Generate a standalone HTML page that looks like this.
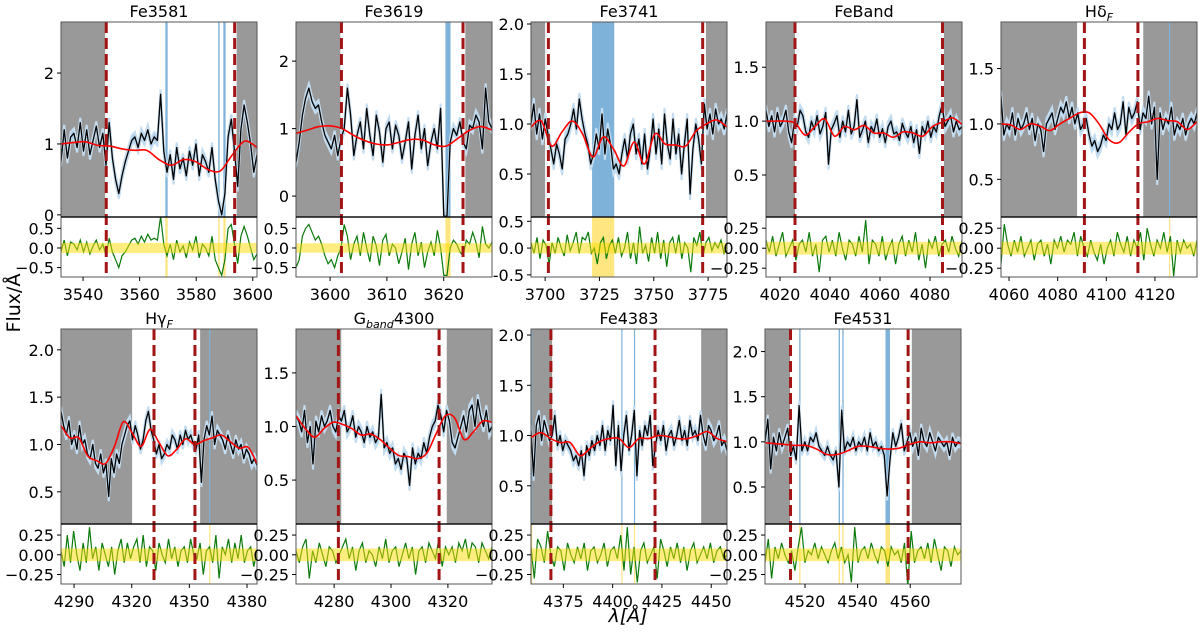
<!DOCTYPE html>
<html><head><meta charset="utf-8"><style>
html,body{margin:0;padding:0;background:#fff;}
svg{display:block;font-family:"DejaVu Sans","Liberation Sans",sans-serif;}
</style></head><body>
<svg id="fig" width="1200" height="633" viewBox="0 0 1200 633" xmlns="http://www.w3.org/2000/svg">
<text x="0" y="0" transform="translate(20,303) rotate(-90)" font-size="19" text-anchor="middle">Flux/Å</text>
<text x="628" y="622" font-size="19" text-anchor="middle" font-style="italic">λ[Å]</text>
</svg>
<script>
// ---- data ----
const fe3581_flux=[0.75,1.2,0.8,1.1,1.15,0.95,1.3,0.9,1.2,0.85,1.05,1.25,0.95,1.15,0.7,1.3,0.8,0.5,0.3,0.55,0.75,0.9,1.05,1.1,0.95,1.15,1.05,1.2,1.0,1.1,1.05,1.7,0.9,0.6,0.85,0.5,0.95,0.65,0.8,0.55,0.9,0.7,1.0,0.55,0.85,0.75,0.6,0.95,0.5,0.2,0.0,0.3,1.1,1.35,0.9,0.4,1.2,1.55,1.3,1.0,0.6,0.85];
const fe3581_model=[1.0,1.02,1.03,0.98,0.97,0.93,0.91,0.91,0.78,0.70,0.78,0.75,0.64,0.62,0.85,1.04,0.95];
const fe3581_resid=[-0.1,0.2,-0.2,0.15,0.1,-0.05,0.2,-0.1,0.15,-0.15,0.05,0.2,-0.05,0.1,-0.2,0.25,-0.1,-0.3,-0.5,-0.2,-0.1,0.05,0.2,0.25,0.1,0.3,0.15,0.35,0.2,0.25,0.2,0.8,0.1,-0.2,0.1,-0.3,0.2,-0.1,0.05,-0.25,0.15,-0.05,0.3,-0.25,0.1,0.0,-0.2,0.3,-0.3,-0.5,-0.7,-0.3,0.5,0.6,0.1,-0.4,0.3,0.55,0.3,0.0,-0.3,-0.15];
const fe3619_flux=[0.5,0.8,1.2,1.45,1.6,1.4,1.3,1.35,1.1,0.9,0.8,0.7,0.9,0.6,0.85,1.0,1.6,1.2,0.6,0.9,1.1,0.7,1.3,0.9,0.6,1.2,0.95,0.5,1.0,1.1,0.7,1.05,0.9,0.55,0.8,1.1,0.4,0.9,1.2,0.7,1.0,0.45,0.8,1.0,0.7,1.3,-0.3,-0.3,0.8,1.0,0.9,1.1,0.8,0.7,1.05,1.0,1.2,1.1,0.7,1.6,1.1,1.0];
const fe3619_model=[0.93,0.98,1.03,1.04,1.0,0.9,0.82,0.77,0.76,0.8,0.84,0.83,0.76,0.74,0.85,0.97,1.03,0.98];
const fe3619_resid=[-0.5,-0.3,0.3,0.5,0.6,0.4,0.2,0.3,0.1,-0.2,-0.4,-0.3,-0.5,-0.2,0.0,0.6,0.3,-0.3,0.1,0.3,-0.2,0.4,0.0,-0.35,0.3,0.05,-0.45,0.2,0.35,-0.2,0.1,0.0,-0.4,-0.1,0.25,-0.55,0.1,0.4,-0.2,0.15,-0.5,-0.1,0.15,-0.2,0.45,0.0,-0.7,-0.7,0.0,0.2,0.1,-0.1,-0.2,0.2,0.1,0.4,0.15,-0.25,0.55,0.1,0.0,0.15];
const fe3741_flux=[1.0,1.2,0.9,1.1,0.85,1.05,0.9,0.75,0.6,0.8,0.7,0.55,0.85,0.9,1.0,1.15,0.95,1.25,1.05,0.9,0.8,0.6,0.7,0.9,0.75,1.1,0.7,0.95,0.8,0.55,0.6,0.5,0.7,0.85,0.65,0.9,1.0,0.7,0.85,0.6,0.9,0.55,0.75,1.05,0.7,0.95,0.6,1.1,0.8,0.65,1.05,0.7,0.9,0.5,0.8,1.05,0.3,0.75,1.0,0.85,0.6,1.2,0.95,1.1,0.9,1.15,1.0,1.05,0.95,1.1];
const fe3741_model=[0.97,1.03,0.78,0.92,1.03,0.9,0.67,0.87,0.75,0.58,0.82,0.6,0.9,0.8,0.79,0.78,0.93,1.0,1.04,0.97];
const fe3741_resid=[0.1,-0.1,0.2,-0.2,0.15,0.05,-0.3,0.1,-0.1,0.2,0.0,-0.15,0.25,-0.05,0.1,0.3,-0.1,0.2,0.15,0.3,-0.1,0.0,-0.3,0.1,0.2,-0.2,0.05,0.15,-0.1,0.2,-0.15,0.0,0.3,-0.2,0.1,-0.3,0.4,-0.1,0.05,-0.25,0.2,-0.1,0.3,-0.2,0.15,-0.35,0.1,0.2,-0.1,0.25,-0.2,0.1,0.0,-0.45,0.2,0.05,0.3,-0.15,0.1,0.2,-0.05,0.1,0.0,0.15,-0.1,0.05];
const feband_flux=[1.1,0.95,1.05,0.9,1.08,0.95,1.0,1.1,0.9,0.8,1.0,0.95,1.1,1.05,0.9,0.85,1.0,0.92,1.05,0.88,0.95,1.08,0.6,0.92,0.98,1.05,0.85,1.0,0.9,1.1,0.88,0.95,1.2,0.85,0.92,1.0,0.8,0.95,0.9,1.02,0.85,0.93,0.8,0.95,1.0,0.88,0.9,0.82,0.98,0.9,0.85,0.95,0.8,0.92,0.7,0.95,0.88,1.0,0.85,0.95,0.9,1.05,1.15,0.95,1.0,1.05,0.9,1.0,0.92,0.95];
const feband_model=[1.0,1.0,1.0,0.98,0.87,0.95,1.02,0.86,0.95,0.92,0.96,0.89,0.89,0.85,0.9,0.89,0.86,0.95,0.99,1.03,0.97];
const feband_resid=[0.1,-0.05,0.15,-0.1,0.05,0.2,-0.1,0.0,0.1,-0.15,0.05,0.1,-0.05,0.2,-0.1,0.05,-0.3,0.1,0.15,-0.05,0.1,-0.1,0.2,0.0,-0.15,0.1,0.05,-0.1,0.15,-0.05,0.35,-0.2,0.1,0.05,-0.1,0.15,-0.15,0.0,0.1,-0.2,0.05,0.15,-0.1,0.1,-0.05,0.2,-0.15,0.05,-0.25,0.1,0.0,0.15,-0.1,0.05,0.1,-0.05,0.15,0.0,-0.1,0.1];
const hdf_flux=[1.25,0.9,1.0,0.95,1.1,0.9,1.05,0.95,1.0,1.1,0.95,1.05,0.85,1.0,0.95,0.75,1.0,1.05,1.1,0.95,1.05,1.15,1.1,1.2,1.05,1.15,1.0,1.1,0.95,1.0,1.05,0.9,0.8,0.85,0.75,0.8,0.9,0.85,1.0,0.95,1.1,0.95,1.0,1.2,0.9,1.15,1.05,1.1,1.2,0.95,1.1,1.05,1.25,1.0,1.15,0.5,1.1,0.95,1.05,1.0,1.15,0.9,1.0,0.95,1.05,0.9,1.0,1.05,1.0,1.1];
const hdf_model=[1.0,0.99,0.95,1.0,0.98,0.94,1.0,1.05,1.1,1.1,1.0,0.86,0.83,0.92,1.0,1.02,1.05,1.03,1.02,0.95,1.02];
const hdf_resid=[-0.2,0.3,0.05,-0.1,0.1,-0.05,0.15,-0.1,0.0,0.1,-0.15,0.05,0.1,-0.1,0.05,-0.2,0.1,0.0,0.15,-0.05,0.1,0.05,0.2,-0.1,0.15,0.0,-0.1,0.1,-0.05,-0.15,0.05,-0.2,0.0,0.1,-0.1,0.2,0.05,-0.05,0.15,-0.1,0.1,0.0,0.2,-0.15,0.25,0.05,-0.1,0.1,0.0,0.2,-0.05,0.15,-0.35,0.1,-0.05,0.1,0.0,0.05,-0.1,0.1];
const hgf_flux=[1.35,1.2,1.1,1.25,1.0,1.1,0.95,1.2,1.0,1.05,0.9,0.85,1.0,0.8,0.75,0.9,0.7,0.8,0.45,0.85,0.7,0.9,0.8,1.0,1.1,1.2,1.25,1.05,1.2,1.1,0.95,1.05,1.25,1.35,1.15,1.05,0.9,1.0,0.85,0.9,1.0,0.95,1.1,1.05,0.95,1.1,1.0,1.15,1.05,1.1,1.0,0.95,1.1,0.6,1.05,1.2,1.1,1.3,1.0,1.15,1.1,1.05,0.95,1.1,1.0,0.9,1.05,0.95,1.0,0.85,0.95,0.9,0.8,0.85,0.78];
const hgf_model=[1.2,1.07,1.07,0.88,0.83,0.8,0.98,1.24,1.12,0.98,1.16,1.02,0.88,0.95,1.06,1.0,1.04,1.07,1.1,1.03,0.96,0.97,0.8];
const hgf_resid=[0.05,-0.15,0.25,-0.1,0.3,0.0,-0.2,0.15,-0.1,0.35,-0.05,0.1,-0.2,0.15,0.0,-0.15,0.1,-0.25,0.05,0.2,-0.1,0.15,-0.05,0.1,0.2,-0.1,0.25,-0.15,0.1,0.05,-0.2,0.15,0.0,-0.1,0.2,-0.05,0.1,-0.15,0.05,0.1,-0.1,0.2,0.0,-0.05,0.15,-0.25,0.05,0.1,-0.1,0.25,-0.3,0.1,0.0,0.2,-0.1,0.15,-0.05,0.25,-0.1,0.05,0.1,-0.15,0.05];
const gband_flux=[1.1,1.05,0.95,1.15,0.85,1.0,0.65,1.05,0.95,1.1,1.0,1.05,1.15,1.0,0.95,1.1,1.05,1.15,0.95,1.0,1.1,0.9,1.0,0.95,0.85,1.0,0.9,0.95,0.85,0.9,1.3,0.8,0.85,0.75,0.8,0.65,0.7,0.6,0.75,0.7,0.45,0.8,0.65,0.75,0.7,0.85,0.75,0.9,1.0,1.05,1.2,1.1,0.95,1.15,1.05,0.85,0.8,0.9,1.0,1.1,0.95,1.15,1.2,1.0,1.25,1.1,1.0,1.15,0.95,1.0];
const gband_model=[1.1,0.98,0.9,0.98,1.04,1.02,0.98,0.92,0.93,0.88,0.8,0.73,0.72,0.7,0.75,0.93,1.1,1.08,0.88,0.95,1.05,1.04];
const gband_resid=[0.05,-0.1,0.1,0.2,-0.3,0.05,-0.1,0.15,0.0,-0.15,0.1,0.05,-0.1,0.0,0.1,0.2,-0.05,0.1,-0.2,0.05,0.15,-0.1,0.05,0.0,-0.15,0.1,-0.05,0.2,-0.1,0.05,0.1,-0.15,0.0,0.15,-0.05,0.1,-0.25,0.05,0.1,-0.1,0.15,0.05,-0.05,0.2,-0.15,0.1,0.0,0.1,-0.1,0.15,0.05,0.2,-0.05,0.15,0.1,-0.1,0.15,0.05,-0.05,0.1];
const fe4383_flux=[1.05,0.6,1.1,1.2,0.95,1.15,1.05,0.95,1.0,1.2,0.9,1.0,0.85,0.95,0.9,0.85,0.75,0.8,0.7,0.85,0.6,0.9,0.8,0.95,0.85,1.0,0.9,1.1,0.85,1.05,0.95,1.3,0.7,1.1,0.65,1.0,1.2,0.85,1.0,1.25,0.6,1.05,0.9,1.1,1.0,1.2,0.7,0.9,1.05,0.95,1.1,0.85,1.0,1.05,0.9,1.0,1.15,0.95,1.05,0.9,1.15,1.0,1.05,0.95,1.2,1.0,0.9,1.1,1.05,0.95,1.0,1.1,0.9,0.95,0.85];
const fe4383_model=[0.98,1.03,0.97,0.93,0.93,0.8,0.87,0.94,0.97,0.97,0.88,0.97,0.97,1.0,0.99,0.97,0.97,1.0,1.04,0.97,0.94];
const fe4383_resid=[0.1,-0.3,0.2,0.1,-0.1,0.3,0.0,-0.15,0.1,0.05,-0.2,0.15,0.0,-0.1,0.1,-0.05,0.15,-0.2,0.05,0.1,-0.1,0.0,0.15,-0.15,0.05,0.1,-0.05,0.25,-0.2,0.35,-0.25,0.1,-0.35,0.05,0.15,-0.1,0.0,0.1,-0.3,0.2,0.05,-0.15,0.1,-0.05,0.15,-0.1,0.1,-0.2,0.05,0.15,-0.1,0.0,0.1,-0.05,0.15,-0.1,0.05,0.1,-0.05,0.0];
const fe4531_flux=[1.0,1.25,0.7,1.05,0.9,1.1,0.95,1.05,1.15,0.85,0.95,0.8,1.4,0.9,1.0,0.9,1.05,1.0,1.1,0.95,0.9,0.85,0.95,0.85,0.8,0.9,0.5,1.35,0.9,1.0,0.95,1.05,0.9,1.0,0.95,1.05,0.9,1.1,0.95,1.0,0.9,0.95,0.85,0.4,0.8,1.1,0.95,1.05,1.2,0.9,1.0,1.1,0.95,1.05,0.85,1.15,1.0,0.95,1.1,1.0,0.9,1.05,1.0,0.95,1.0,0.85,1.05,0.95,1.0,0.98];
const fe4531_model=[0.99,0.98,0.97,0.96,0.96,0.92,0.86,0.86,0.9,0.95,0.95,0.93,0.92,0.93,0.97,1.0,0.99,1.0,1.0,0.98];
const fe4531_resid=[-0.1,0.2,-0.3,0.1,-0.05,0.15,0.0,-0.1,0.05,-0.2,0.1,0.35,-0.1,0.05,0.0,0.15,-0.05,0.1,0.0,-0.1,0.05,0.15,-0.05,0.1,-0.1,0.0,-0.35,0.35,-0.1,0.05,0.1,-0.05,0.15,0.0,-0.1,0.1,0.05,-0.15,0.1,0.0,0.05,-0.1,0.15,-0.4,0.3,-0.1,0.05,0.1,-0.05,0.15,-0.1,0.2,0.0,-0.2,0.1,0.05,-0.15,0.1,0.0,0.05];
const titles=["Fe3581","Fe3619","Fe3741","FeBand","HδF","HγF","Gband4300","Fe4383","Fe4531"];
const xTicks=[[3540,3560,3580,3600],[3600,3610,3620],[3700,3725,3750,3775],[4020,4040,4060,4080],[4060,4080,4100,4120],[4290,4320,4350,4380],[4280,4300,4320],[4375,4400,4425,4450],[4520,4540,4560]];
const yTicks=[[0,1,2],[0,1,2],[0.5,1.0,1.5,2.0],[0.5,1.0,1.5],[0.5,1.0,1.5],[0.5,1.0,1.5,2.0],[0.5,1.0,1.5],[0.5,1.0,1.5,2.0],[0.5,1.0,1.5,2.0]];
const rTicks=[[0.5,0,-0.5],[0.5,0,-0.5],[0.5,0,-0.5],[0.25,0,-0.25],[0.25,0,-0.25],[0.25,0,-0.25],[0.25,0,-0.25],[0.25,0,-0.25],[0.25,0,-0.25]];
const greyRegions=[[[0,3547.8],[3594.3,9999]],[[0,3601.8],[3623.8,9999]],[[0,3700],[3774,9999]],[[0,4026],[4085.6,9999]],[[0,4088],[4115.2,9999]],[[0,4320.2],[4355.6,9999]],[[0,4282.5],[4319.6,9999]],[[0,4369.3],[4444.9,9999]],[[0,4514.3],[4560.6,9999]]];
const bandEdges=[[3548.2,3593.6],[3602,3623.4],[3701.5,3772.5],[4026,4085],[4091,4113],[4331.6,4352.9],[4281.5,4316.9],[4368.7,4421.5],[4514.5,4559.2]];
const masked=[[[3569.1,3569.9],[3587.8,3588.3],[3589.6,3590.4]],[[3620.3,3621.2]],[[3721.6,3731.8]],[],[[4125.8,4126.3]],[[4360.3,4360.8]],[],[[4358.6,4359.2],[4404.4,4404.9],[4410.8,4411.3]],[[4517.8,4518.3],[4532.8,4533.3],[4534.2,4534.7],[4550.6,4552.3]]];
const residErr=[0.13,0.12,0.1,0.08,0.08,0.08,0.08,0.08,0.08];
const fluxErr=[0.07,0.07,0.06,0.05,0.05,0.05,0.05,0.05,0.05];
const fluxes=[fe3581_flux,fe3619_flux,fe3741_flux,feband_flux,hdf_flux,hgf_flux,gband_flux,fe4383_flux,fe4531_flux];
const models=[fe3581_model,fe3619_model,fe3741_model,feband_model,hdf_model,hgf_model,gband_model,fe4383_model,fe4531_model];
const resids=[fe3581_resid,fe3619_resid,fe3741_resid,feband_resid,hdf_resid,hgf_resid,gband_resid,fe4383_resid,fe4531_resid];

// ---- layout (axes limits & pixel boxes) ----
const layout=[
 {x:61,t:22,xl:[3532.2,3601.5],yl:[-0.03,2.72],rl:[-0.74,0.79]},
 {x:296,t:22,xl:[3594,3628.5],yl:[-0.31,2.58],rl:[-0.74,0.79]},
 {x:531,t:22,xl:[3693.5,3783.7],yl:[0.07,2.02],rl:[-0.54,0.58]},
 {x:766,t:22,xl:[4014.4,4092.8],yl:[0.11,1.92],rl:[-0.36,0.39]},
 {x:1001,t:22,xl:[4056.7,4137.3],yl:[0.16,1.92],rl:[-0.36,0.39]},
 {x:61,t:329,xl:[4283.2,4385.2],yl:[0.16,2.22],rl:[-0.37,0.39]},
 {x:296,t:329,xl:[4266.6,4335.5],yl:[0.09,1.91],rl:[-0.37,0.39]},
 {x:531,t:329,xl:[4358.6,4458],yl:[0.12,2.06],rl:[-0.37,0.39]},
 {x:765,t:329,xl:[4504.8,4579.3],yl:[0.09,2.25],rl:[-0.37,0.39]}];
const W=196,HM=195,HR=60;
const NS="http://www.w3.org/2000/svg";
const svg=document.getElementById('fig');
function mk(tag,attrs,parent){const e=document.createElementNS(NS,tag);for(const k in attrs)e.setAttribute(k,attrs[k]);(parent||svg).appendChild(e);return e;}
function fmt(v,d){const s=Math.abs(v).toFixed(d);return (v<0?"−":"")+s;}
function smooth(pts){let d="M"+pts[0][0]+","+pts[0][1];for(let i=0;i<pts.length-1;i++){const p0=pts[i-1]||pts[i],p1=pts[i],p2=pts[i+1],p3=pts[i+2]||p2;d+=" C"+(p1[0]+(p2[0]-p0[0])/6)+","+(p1[1]+(p2[1]-p0[1])/6)+" "+(p2[0]-(p3[0]-p1[0])/6)+","+(p2[1]-(p3[1]-p1[1])/6)+" "+p2[0]+","+p2[1];}return d;}

layout.forEach((L,i)=>{
 const x0=L.x,top=L.t,mb=top+HM,rb=mb+HR;
 const sx=v=>x0+(v-L.xl[0])/(L.xl[1]-L.xl[0])*W;
 const sy=v=>mb-(v-L.yl[0])/(L.yl[1]-L.yl[0])*HM;
 const sr=v=>rb-(v-L.rl[0])/(L.rl[1]-L.rl[0])*HR;
 const g=mk('g',{});
 
 
 const cid='c'+i,rid='r'+i;
 const defs=mk('defs',{},g);
 mk('rect',{x:x0,y:top,width:W,height:HM},mk('clipPath',{id:cid},defs));
 mk('rect',{x:x0,y:mb,width:W,height:HR},mk('clipPath',{id:rid},defs));
 const m=mk('g',{'clip-path':'url(#'+cid+')'},g);
 const r=mk('g',{'clip-path':'url(#'+rid+')'},g);
 greyRegions[i].forEach(gr=>{const a=Math.max(sx(gr[0]),x0),b=Math.min(sx(gr[1]),x0+W);
  const e=mk('rect',{x:a,y:top,width:b-a,height:HM,fill:'#999999'},m);
  
  });
 masked[i].forEach(mr=>{
  const a=sx(mr[0]),w=Math.max(sx(mr[1])-a,1.2);
  const e=mk('rect',{x:a,y:top,width:w,height:HM,fill:'#7fb2d8'},m);
  
  
  const e2=mk('rect',{x:a,y:mb,width:w,height:HR,fill:'#ffe680'},r);
  
  });
 const f=fluxes[i],n=f.length;
 const fx=k=>sx(L.xl[0]+k*(L.xl[1]-L.xl[0])/(n-1));
 let up="",dn="";
 f.forEach((v,k)=>{up+=(k?"L":"M")+fx(k).toFixed(1)+","+sy(v+fluxErr[i]).toFixed(1);});
 for(let k=n-1;k>=0;k--)dn+="L"+fx(k).toFixed(1)+","+sy(f[k]-fluxErr[i]).toFixed(1);
 const eb=mk('path',{d:up+dn+"Z",fill:'#a6c9e6',stroke:'#c3dcf0','stroke-width':2},m);
 
 
 const fl=mk('polyline',{points:f.map((v,k)=>fx(k).toFixed(1)+","+sy(v).toFixed(1)).join(" "),fill:'none',stroke:'#000','stroke-width':1.3,'stroke-linejoin':'round'},m);
 
 
 const md=models[i],nm=md.length;
 const mp=md.map((v,k)=>[sx(L.xl[0]+k*(L.xl[1]-L.xl[0])/(nm-1)),sy(v)]);
 const ml=mk('path',{d:smooth(mp),fill:'none',stroke:'#ff0000','stroke-width':1.6},m);
 
 
 const rs=resids[i],nr=rs.length;
 const rxf=k=>sx(L.xl[0]+k*(L.xl[1]-L.xl[0])/(nr-1));
 const rl=mk('polyline',{points:rs.map((v,k)=>rxf(k).toFixed(1)+","+sr(v).toFixed(1)).join(" "),fill:'none',stroke:'#0a7a0a','stroke-width':1.2},r);
 
 
 const yb=mk('rect',{x:x0,y:sr(residErr[i]),width:W,height:sr(-residErr[i])-sr(residErr[i]),fill:'rgba(255,221,0,0.5)'},r);
 
 
 bandEdges[i].forEach(b=>{const e=mk('line',{x1:sx(b),x2:sx(b),y1:top,y2:rb,stroke:'#a31515','stroke-width':3,'stroke-dasharray':'11,5'},g);
  
  });
 const fr=mk('rect',{x:x0,y:top,width:W,height:HM+HR,fill:'none',stroke:'#555','stroke-width':1},g);
 
 
 const dv=mk('line',{x1:x0,x2:x0+W,y1:mb,y2:mb,stroke:'#111','stroke-width':1.5},g);
 
 
 const tt=mk('text',{x:x0+W/2,y:top-5,'font-size':16,'text-anchor':'middle'},g);
 
 
 const ttl=titles[i];
 if(ttl==="HδF"||ttl==="HγF"){tt.textContent=ttl.slice(0,2);const s=mk('tspan',{'font-size':11,'font-style':'italic',dy:4},tt);s.textContent='F';}
 else if(ttl==="Gband4300"){tt.textContent='G';const s=mk('tspan',{'font-size':11,'font-style':'italic',dy:4},tt);s.textContent='band';const s2=mk('tspan',{dy:-4},tt);s2.textContent='4300';}
 else tt.textContent=ttl;
 xTicks[i].forEach(v=>{const X=sx(v);mk('line',{x1:X,x2:X,y1:rb,y2:rb+4,stroke:'#000'},g);
  const t=mk('text',{x:X,y:rb+23,'font-size':16,'text-anchor':'middle'},g);t.textContent=v;
  
  });
 const yd=(i<2)?0:1;
 yTicks[i].forEach(v=>{const Y=sy(v);mk('line',{x1:x0-4,x2:x0,y1:Y,y2:Y,stroke:'#000'},g);
  const t=mk('text',{x:x0-7,y:Y+6,'font-size':16,'text-anchor':'end'},g);t.textContent=fmt(v,yd);
  
  });
 const rd=(i<3)?1:2;
 rTicks[i].forEach(v=>{const Y=sr(v);mk('line',{x1:x0-4,x2:x0,y1:Y,y2:Y,stroke:'#000'},g);
  const t=mk('text',{x:x0-7,y:Y+6,'font-size':16,'text-anchor':'end'},g);t.textContent=(i===2&&v<0)?"-0.5":fmt(v,rd);
  
  });
});
</script>
</body></html>
